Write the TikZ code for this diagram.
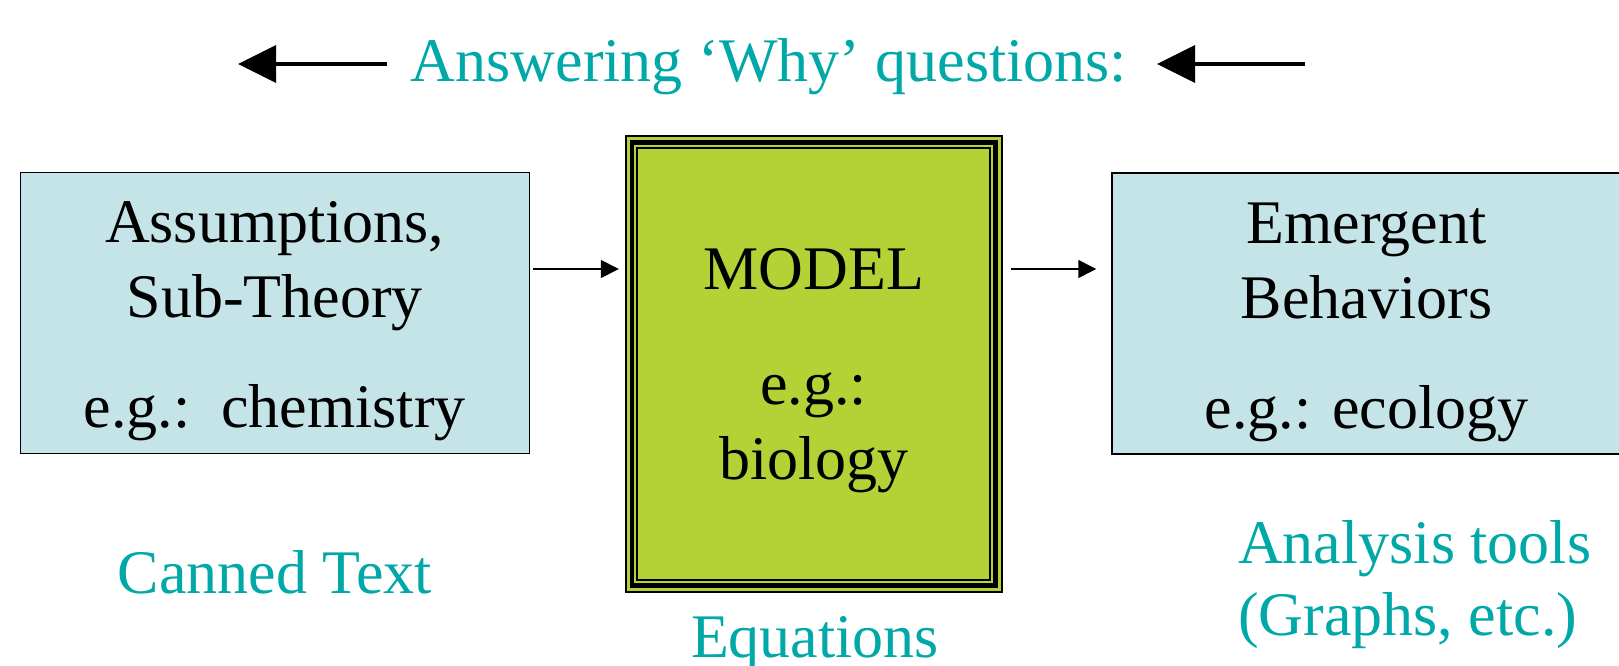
\documentclass[tikz,border=0pt]{standalone}
\usepackage{fontspec}
\setmainfont{Liberation Serif}
\usepackage{xcolor}
\usetikzlibrary{arrows.meta}

\definecolor{whyteal}{RGB}{0,168,168}
\definecolor{boxblue}{RGB}{197,228,232}
\definecolor{modelgreen}{RGB}{180,209,54}

\tikzset{
  sidebox/.style={draw, line width=1.5pt, fill=boxblue, inner sep=0pt,
    minimum width=509pt, minimum height=281pt, align=center},
  modelbox/.style={draw, line width=2pt, fill=modelgreen, inner sep=0pt,
    minimum width=376pt, minimum height=456pt, align=center},
  tealnote/.style={whyteal, anchor=base, inner sep=0pt},
  flow/.style={-{Triangle[length=18pt,width=18pt]}, line width=1.5pt},
  why/.style={-{Triangle[length=38pt,width=37pt]}, line width=3.5pt}
}

\begin{document}
\begin{tikzpicture}[x=1pt, y=-1pt, font=\fontsize{62}{75}\selectfont]
  \clip (0,0) rectangle (1619,666);

  % the three boxes
  \node[sidebox] (assume) at (274.75,312.75) {\rule{0pt}{58pt}Assumptions,\\Sub-Theory\\[35pt]e.g.:\ \ chemistry};
  \node[modelbox] (model) at (813.8,364) {\rule{0pt}{54pt}MODEL\\[40pt]e.g.:\\biology};
  \node[sidebox] (emerge) at (1366.5,313.5) {\rule{0pt}{58pt}Emergent\\Behaviors\\[35pt]e.g.: ecology};

  % inner frame lines of the model box
  \draw[line width=4.5pt] ([shift={(7.3,7.3)}]model.north west) rectangle ([shift={(-7.3,-7.3)}]model.south east);
  \draw[line width=2pt] ([shift={(12.6,12.6)}]model.north west) rectangle ([shift={(-12.6,-12.6)}]model.south east);

  \coordinate (level) at (0,269);
  \draw[flow, shorten <=3pt, shorten >=6pt] (assume.east |- level) -- (model.west |- level);
  \draw[flow, shorten <=8pt, shorten >=15pt] (model.east |- level) -- (emerge.west |- level);

  % why line
  \node[tealnote] (why) at (769,82) {Answering ‘Why’ questions:};
  \coordinate (lefttail) at (387,64);
  \coordinate (lefttip) at (238,64);
  \coordinate (righttail) at (1305,64);
  \coordinate (righttip) at (1157,64);
  \draw[why] (lefttail) -- (lefttip);
  \draw[why] (righttail) -- (righttip);

  % labels below
  \node[tealnote] (canned) at (275,593) {Canned Text};
  \node[tealnote] (equations) at (815,657) {Equations};
  \node[tealnote, anchor=base west] (tools) at (1238,563) {Analysis tools};
  \node[tealnote, anchor=base west] (graphs) at (1238,635) {(Graphs, etc.)};
\end{tikzpicture}
\end{document}
